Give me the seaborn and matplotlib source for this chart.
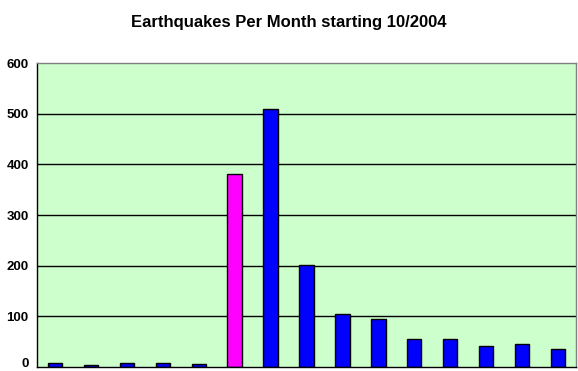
import numpy as np
import pandas as pd
import matplotlib
matplotlib.use("Agg")
import matplotlib.pyplot as plt
import seaborn as sns

# monthly quake counts starting 10/2004
months = [f"m{i}" for i in range(1, 16)]
counts = [8, 4, 8, 8, 5, 380, 509, 201, 104, 95, 55, 55, 41, 45, 35]
highlight = ["no"] * 5 + ["yes"] + ["no"] * 9
yticks = [0, 100, 200, 300, 400, 500, 600]

df = pd.DataFrame({"month": months, "count": counts, "hl": highlight})

sns.set_style("white")
plt.rcParams["font.family"] = ["Liberation Sans", "DejaVu Sans"]
plt.rcParams["text.color"] = "black"
plt.rcParams["ytick.color"] = "black"
plt.rcParams["xtick.color"] = "black"

fig = plt.figure(figsize=(5.78, 3.71), dpi=100)
ax = fig.add_axes([37 / 578, 4 / 371, 539 / 578, 304 / 371])
ax.set_facecolor("#CCFFCC")

sns.barplot(data=df, x="month", y="count", hue="hl",
            palette={"no": "#0000FF", "yes": "#FF00FF"},
            dodge=False, width=0.4, saturation=1,
            edgecolor="black", linewidth=1,
            legend=False, ax=ax)

ax.set_xlim(-0.5, len(months) - 0.5)
ax.set_ylim(0, 600)
ax.set_yticks(yticks)
# the "0" label is drawn separately, nudged up so it stays on the canvas
ax.set_yticklabels([""] + [str(v) for v in yticks[1:]],
                   fontweight="bold", fontsize=9.5)
ax.annotate(str(yticks[0]), xy=(0, yticks[0]), xycoords=("axes fraction", "data"),
            xytext=(-6, 2.5), textcoords="offset points",
            ha="right", va="center", fontweight="bold", fontsize=9.5)
for y in yticks[1:-1]:
    ax.axhline(y, color="black", lw=1, zorder=0.5)

ax.set_xticks([])
ax.set_xticks(np.arange(-0.5, len(months), 1), minor=True)
ax.tick_params(axis="x", which="minor", length=4, width=1, color="black")
ax.tick_params(axis="y", length=4, width=1, color="black", pad=2)
ax.set_xlabel("")
ax.set_ylabel("")

for s in ["top", "right"]:
    ax.spines[s].set_color("#808080")
    ax.spines[s].set_linewidth(1)
for s in ["left", "bottom"]:
    ax.spines[s].set_color("black")
    ax.spines[s].set_linewidth(1)

fig.text(0.5, 1 - 22 / 371, "Earthquakes Per Month starting 10/2004",
         ha="center", va="center", fontsize=12, fontweight="bold")

fig.savefig("out.png", dpi=100)
